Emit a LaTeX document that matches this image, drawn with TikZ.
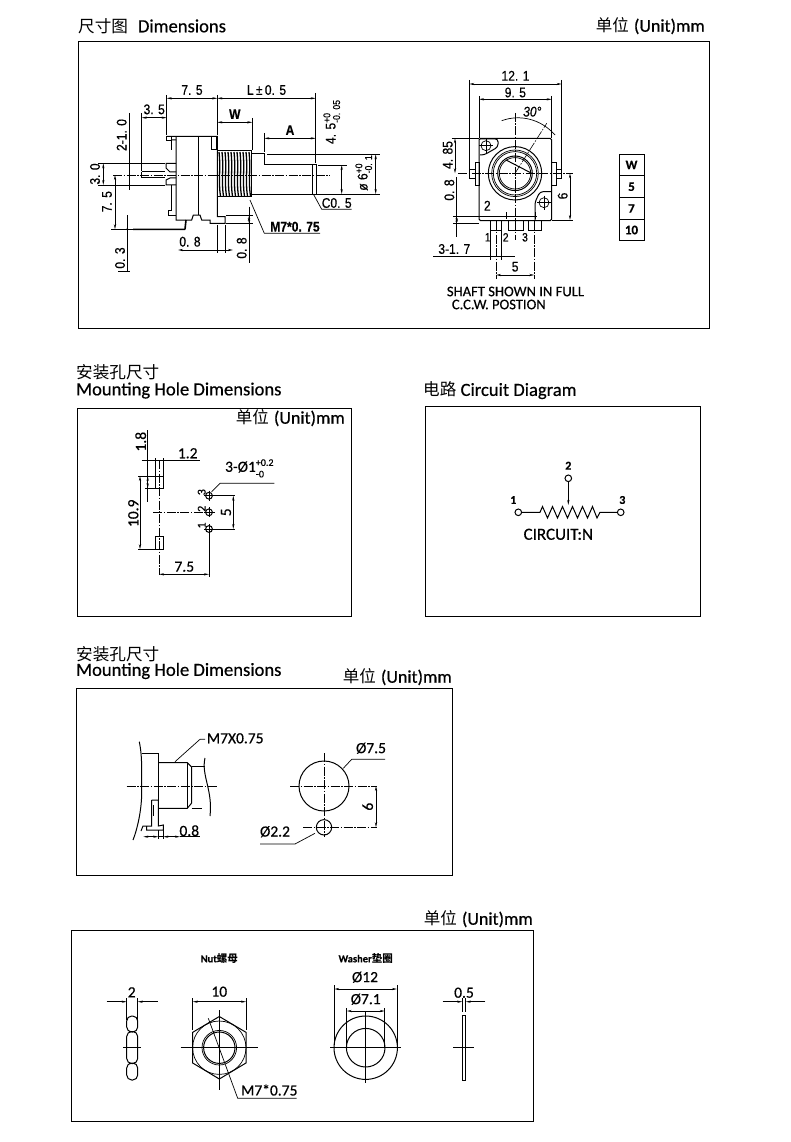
\documentclass[tikz,border=0pt]{standalone}
\usepackage{fontspec}
\usetikzlibrary{calc,arrows.meta}
\setmainfont{Carlito}[RawFeature={embolden=0.5}]
\newfontfamily\dimfont{Liberation Sans}[FakeStretch=.86,RawFeature={embolden=0.5}]
\newfontfamily\cjkfont{Noto Sans CJK SC}
\newcommand{\tolstack}[3][9]{{\fontsize{10}{#1}\selectfont\begin{tabular}{@{}l@{}}#2\\#3\end{tabular}}}
\newcommand{\unittext}{{\cjkfont\fontsize{16.5}{16.5}\selectfont 单位}\hspace{5pt}(Unit)mm}
\tikzset{
  thin line/.style={line width=.7pt},
  part/.style={line width=1pt},
  frame/.style={line width=.9pt},
  dimline/.style={line width=.7pt,<->},
  center/.style={line width=.6pt,dash pattern=on 9pt off 1.5pt on 1.5pt off 1.5pt},
  title/.style={font=\fontsize{18.6}{18.6}\selectfont,anchor=west,inner sep=0pt},
  cjktitle/.style={font=\cjkfont\fontsize{16.6}{16.6}\selectfont,anchor=west,inner sep=0pt},
  unit/.style={font=\fontsize{18}{18}\selectfont,anchor=east,inner sep=0pt},
  dim/.style={font=\dimfont\fontsize{14}{14}\selectfont,inner sep=0pt},
  val/.style={font=\fontsize{15.5}{15.5}\selectfont,inner sep=0pt},
  note/.style={font=\fontsize{14.6}{14.6}\selectfont,inner sep=0pt},
  small/.style={font=\fontsize{10.5}{10.5}\selectfont\bfseries,inner sep=0pt},
}
\begin{document}
\begin{tikzpicture}[x=1pt,y=-1pt,>={Stealth[length=5pt,width=2.2pt]}]
\useasboundingbox (0,0) rectangle (790,1142);
% frames
\draw[frame] (78,41) rectangle (709,328);
\draw[frame] (77,408) rectangle (351,616);
\draw[frame] (425,406) rectangle (700,616);
\draw[frame] (76,688) rectangle (452,875);
\draw[frame] (71,930) rectangle (533,1121);
% titles
\node[title] (tdim) at (78,26) {{\cjkfont\fontsize{16.6}{16.6}\selectfont 尺寸图}\hspace{10pt}Dimensions};
\node[unit] (uone) at (705,26) {\unittext};
\node[cjktitle] (thole) at (76,372) {安装孔尺寸};
\node[title] (tholeb) at (76,390.5) {Mounting Hole Dimensions};
\node[title] (tcirc) at (423,390.5) {{\cjkfont\fontsize{16.6}{16.6}\selectfont 电路} Circuit Diagram};
\node[unit] (utwo) at (345,418) {\unittext};
\node[cjktitle] (tholec) at (76,654) {安装孔尺寸};
\node[title] (tholed) at (76,671) {Mounting Hole Dimensions};
\node[unit] (uthree) at (452,677) {\unittext};
\node[unit] (ufour) at (533,919) {\unittext};

% side view of the pot
\draw[center] (113,175)--(330,175);
\draw[part] (141.7,172)--(165,172) (141.7,178)--(165,178) (141.7,172)--(141.7,178);
\draw[part] (166.7,136.5)--(217.3,136.5)--(217.3,216.7)--(225,216.7)--(225,223.3)--(210,223.3)--(210,220)--(201.7,220)--(200,215)--(193.3,215)--(191.7,220)--(176,220)--(176,136.5);
\draw[part] (166.7,136.5)--(166.7,140.5)--(171.7,140.5)--(171.7,150) (171.7,136.5)--(171.7,140.5);
\draw[part] (176,140)--(171.7,140) (176,163.3)--(166,163.3)--(166,168)--(170,172)--(176,172);
\draw[part] (176,185)--(166,185)--(166,180)--(170,178)--(176,178);
\draw[part] (171.7,185)--(171.7,210)--(168,210)--(168,215)--(176,215);
\draw[part] (198.3,136.5)--(198.3,215) (211,137)--(211,150)--(216,150)--(216,137);
\draw[line width=1.6pt] (133,229.3)--(185,229.3) (185,229.3)--(186,220);
\fill (127.3,229.3) circle (1.2);
% thread
\draw[part] (217.3,151)--(252,151) (217.3,196.7)--(251,196.7) (251.7,151)--(251.7,196.7) (217.3,151)--(217.3,197);
\foreach \x in {219,222,...,249}{
  \draw[line width=1.3pt] (\x,152)..controls (\x+2,170) and (\x-1,180)..(\x+1.5,196);
}
% shaft
\draw[part] (251.7,154)--(264.3,154)--(264.3,165)--(316,165)--(316,194)--(251.7,194);
\draw[part] (312.3,165)--(312.3,194);
% side view dimensions
\draw[thin line] (166.7,95)--(166.7,135) (217.3,95)--(217.3,135) (315.7,93)--(315.7,163)
  (252.3,118)--(252.3,150) (264.3,133)--(264.3,152)
  (141.7,113)--(141.7,171) (129.3,113)--(129.3,190)
  (98,163.3)--(165,163.3) (98,185)--(165,185) (111,229.3)--(133,229.3) (127.3,215)--(127.3,271) (118,271)--(130,271)
  (267,154.3)--(380,154.3) (316,194)--(380,194) (318,165)--(347,165)
  (217.3,225)--(217.3,253) (225,225)--(225,253) (226,215.7)--(253,215.7) (226,223.3)--(253,223.3) (249,206.7)--(249,263);
\draw[dimline] (166.7,98.3)--(217.3,98.3) node[dim,midway,above=3pt] (lbodyw) {7. 5};
\draw[dimline] (217.3,98.3)--(315.7,98.3) node[dim,midway,above=3pt] (lshaft) {L\,±\,0. 5};
\draw[dimline] (217.3,122.3)--(252.3,122.3) node[dim,midway,above=3pt] (lw) {\bfseries W};
\draw[dimline] (264.3,138.3)--(315.7,138.3) node[dim,midway,above=3pt] (la) {\bfseries A};
\draw[dimline] (141.7,117.7)--(166.7,117.7) node[dim,midway,above=3pt] (lpin) {3. 5};
\draw[dimline] (103.3,163.3)--(103.3,185);
\draw[dimline] (115,175)--(115,229.3);
\draw[dimline] (341.7,165)--(341.7,194);
\draw[dimline] (375.7,154.3)--(375.7,194);
\draw[dimline] (178,250)--(233,250);
\draw[dimline] (249,215.7)--(249,223.3);
\node[dim,rotate=90] (lpinw) at (121.7,135) {2-1. 0};
\node[dim,rotate=90] (lthree) at (95,174) {3. 0};
\node[dim,rotate=90] (lheight) at (107,201.7) {7. 5};
\node[dim,rotate=90] (lthick) at (120,258) {0. 3};
\node[dim,rotate=90] (lflat) at (333,122) {4. 5\tolstack{+0}{-0. 05}};
\node[dim,rotate=90] (ldia) at (365,173) {ø 6\tolstack{+0}{-0. 1}};
\node[dim] (llug) at (190,241.7) {0. 8};
\node[dim,rotate=90] (lstep) at (241.7,248) {0. 8};
\node[dim] (lcham) at (336.7,203) {C0. 5};
\node[dim] (lthread) at (295,226.7) {\bfseries M7*0. 75};
\draw[thin line] (313.3,194)--(321.7,209.3)--(351.7,209.3);
\draw[thin line] (250,200)--(264.3,233.3)--(320,233.3);

% front view of the pot
\draw[part,rounded corners=1.5pt] (479,138.3)--(551.7,138.3)--(551.7,220.7)--(479,220.7)--cycle;
\draw[part,rounded corners=3pt] (480,138.8)--(498,138.8)--(498,147)--(484,155)--(480,155);
\draw[part,rounded corners=3pt] (551,191.7)--(540,191.7)--(535,202)--(535,220);
\path (515,173.3) coordinate (C) (486,145.7) coordinate (holeA) (544,202.7) coordinate (holeB);
\foreach \h in {holeA,holeB}{
  \draw[thin line] (\h) circle (5);
  \draw[thin line] ($(\h)+(-7,0)$)--($(\h)+(7,0)$) ($(\h)+(0,-7)$)--($(\h)+(0,7)$);
}
\draw[part] (C) circle (26.7) (C) circle (17.3);
\draw[thin line] (C) circle (23.3) (C) circle (21.7) (C) circle (15.7);
\draw[part] (506,160)--(531.7,173.3);
\draw[center] (515,113)--(515,240);
\draw[center] (458,173.3)--(573,173.3);
\draw[center] (C)--(546.7,123.3);
\draw[thin line] (501.7,120.7) .. controls (520,114) and (541,119) .. (555,135);
\node[font=\dimfont\itshape\fontsize{14}{14}\selectfont,inner sep=0pt] (lang) at (532.3,111.7) {30°};
\draw[part] (475,162.7) rectangle (479,186) (551.7,162.7) rectangle (556,186);
\draw[part] (469.3,170) rectangle (475,178.3) (556,170) rectangle (561.7,178.3);
\draw[part] (490,220.7) rectangle (501.7,230.7) (508.3,220.7) rectangle (523.3,230.7) (528.3,220.7) rectangle (541.7,230.7);
\draw[thin line] (469.3,80)--(469.3,170) (561.7,80)--(561.7,170) (479,96)--(479,138) (551.7,96)--(551.7,138)
  (451.7,138.3)--(479,138.3) (453,216.7)--(536.7,216.7) (453,223.3)--(479,223.3) (552,220)--(573,220)
  (490,230)--(490,260) (501.7,230)--(501.7,260) (433.3,256)--(515,256);
\draw[dimline] (469.3,84)--(561.7,84) node[dim,midway,above=3pt] (lwide) {12. 1};
\draw[dimline] (479,99.3)--(551.7,99.3) node[dim,midway,above=1.5pt] (lbody) {9. 5};
\draw[dimline] (455,138.3)--(455,173.3);
\draw[dimline] (456.7,216.7)--(456.7,223.3);
\draw[thin line] (456.7,177)--(456.7,236.7);
\draw[dimline] (570,173.3)--(570,220);
\draw[dimline] (496,275)--(534.3,275) node[dim,midway,above=3pt] (lpitch) {5};
\draw[center] (496,221)--(496,279) (534.3,221)--(534.3,279);
\draw[thin line] (506.7,212)--(506.7,219) (535,212)--(535,219);
\node[dim,rotate=90] (ltop) at (447.7,155) {4. 85};
\node[dim,rotate=90] (llow) at (449.3,190) {0. 8};
\node[dim] (lrib) at (487.3,205.7) {2};
\node[dim,rotate=90] (lsix) at (562.7,196) {6};
\node[dim] (lpinb) at (454.3,249) {3-1. 7};
\foreach \n/\x in {1/487.7,2/505.7,3/525}{
  \node[dim,font=\dimfont\fontsize{12}{12}\selectfont] (pin\n) at (\x,237.3) {\n};
}
\node[note,anchor=west] (lnotea) at (446.7,291.5) {SHAFT SHOWN IN FULL};
\node[note,anchor=west] (lnoteb) at (451.7,304.5) {C.C.W. POSTION};
% table
\draw[frame] (619,154.3) rectangle (644,240.7) (619,175.7)--(644,175.7) (619,197.7)--(644,197.7) (619,219.3)--(644,219.3);
\foreach \t/\y/\lab in {tw/165/W,tf/186.7/5,ts/208.5/7,tt/230/10}{
  \node[font=\fontsize{13}{13}\selectfont\bfseries,inner sep=0pt] (\t) at (631.5,\y) {\lab};
}

% mounting holes
\draw[center] (159,460)--(159,575) (153.3,512.3)--(215,512.3);
\draw[part] (155,476) rectangle (163.3,488.3) (155,536.7) rectangle (163.3,549.3);
\foreach \n/\y in {3/495.7,2/512.3,1/529}{
  \draw[part] (209,\y) circle (3.4);
  \draw[thin line] (204,\y)--(214,\y) (209,\y-5)--(209,\y+5);
  \node[rotate=90,font=\fontsize{12}{12}\selectfont,inner sep=0pt] (hole\n) at (201.7,\y-3.5) {\n};
}
\draw[thin line] (147.7,430)--(147.7,501.7) (138.3,476)--(155,476) (138.3,549.3)--(155,549.3) (145,488.3)--(155,488.3)
  (155,458)--(155,476) (163.3,458)--(163.3,476) (141.7,460)--(200,460)
  (209,532)--(209,577) (209,495.7)--(235,495.7) (209,529)--(235,529);
\draw[dimline] (147.7,476)--(147.7,488.3);
\draw[dimline] (140,476)--(140,549.3);
\draw[dimline] (159,574.3)--(209,574.3);
\draw[dimline] (233.3,495.7)--(233.3,529);
\draw[thin line] (211.7,491.7)--(220,483.3)--(274.3,483.3);
\node[val,rotate=90] (bpad) at (140.7,441.7) {1.8};
\node[val] (bgap) at (187.7,453.3) {1.2};
\node[val] (bhole) at (249.3,469.3) {3-Ø1\tolstack[11.5]{+0.2}{-0}};
\node[val,rotate=90] (bspan) at (133.3,513.3) {10.9};
\node[val,rotate=90] (bfive) at (226,512.3) {5};
\node[val] (bdepth) at (184.3,566.7) {7.5};

% circuit
\path (518.3,512.3) coordinate (a) (620.7,512.3) coordinate (b) (568.3,478.3) coordinate (w);
\draw[part] (a) circle (3.3) (b) circle (3.3) (w) circle (3.3);
\draw[part] (521.6,512.3)--(540,512.3)--(542.5,506.5)--(547.5,518)--(552.5,506.5)--(557.5,518)--(562.5,506.5)--(567.5,518)--(572.5,506.5)--(577.5,518)--(582.5,506.5)--(587.5,518)--(592.5,506.5)--(597,518)--(600,512.3)--(617.4,512.3);
\draw[part,->] (568.3,481.6)--(568.3,505);
\node[small,font=\fontsize{12}{12}\selectfont\bfseries] (ca) at (513.3,500) {1};
\node[small,font=\fontsize{12}{12}\selectfont\bfseries] (cw) at (568.3,465.7) {2};
\node[small,font=\fontsize{12}{12}\selectfont\bfseries] (cb) at (622.3,500) {3};
\node[font=\fontsize{17}{17}\selectfont,inner sep=0pt] (cname) at (558.3,534.3) {CIRCUIT:N};

% bushing and panel cut-out
\draw[center] (126.7,786)--(216.7,786);
\draw[part] (139.3,741.7)..controls (143,760) and (141,775)..(141.7,790)..controls (142,810) and (137,830)..(133,840);
\draw[part] (141.7,753.3)--(158.3,753.3)--(158.3,800);
\draw[part] (158.3,762.7)--(187.3,762.7)--(191.7,767)--(191.7,803)--(187.3,808.3)--(158.3,808.3);
\draw[part] (187.3,762.7)--(187.3,808.3);
\draw[part] (191.7,766)--(205,766) (191.7,808.3)--(201.7,808.3);
\draw[part] (205,758)..controls (201,775) and (213,790)..(210,816);
\draw[part] (151.7,800)--(158.3,800)--(158.3,826)--(163.3,825)--(163.3,830)--(146.7,830)--(146.7,826)--(143,826)--(141,831)
  (151.7,800)--(151.7,826)--(146.7,826);
\draw[line width=1.5pt] (153.5,805)--(153.5,816);
\draw[thin line] (158.3,830)--(158.3,839) (163.3,830)--(163.3,839);
\draw[dimline] (143.3,836.7)--(158.3,836.7);
\draw[dimline] (180,836.7)--(163.3,836.7);
\draw[thin line] (158.3,836.7)--(163.3,836.7) (180,836.7)--(200,836.7);
\node[val] (mdim) at (189.3,830.7) {0.8};
\draw[thin line] (175,761.7)--(200,739.3)--(205,739.3);
\node[val,anchor=west] (mthread) at (206.7,738.3) {M7X0.75};
\path (324,786) coordinate (big) (324,827.3) coordinate (small);
\draw[part] (big) circle (25) (small) circle (7.7);
\draw[center] (324,753)--(324,836.7) (290,786)--(376.7,786) (303,827.3)--(376.7,827.3);
\draw[dimline] (376,786)--(376,827.3);
\node[val,rotate=90] (msix) at (367.7,806.7) {6};
\node[val] (mbig) at (371,748.3) {Ø7.5};
\node[val] (msmall) at (275,831.7) {Ø2.2};
\draw[thin line] (343.3,768.3)--(351.7,759.3)--(385,759.3);
\draw[thin line] (315,833.3)--(295,844)--(260,844);

% nut, side
\draw[part,rounded corners=5pt] (126.7,1016) rectangle (137.7,1032) (126.7,1031.5) rectangle (137.7,1063.5) (126.7,1063) rectangle (137.7,1080);
\draw[thin line] (123.3,1047.7)--(140.7,1047.7);
\draw[thin line] (126.7,998)--(126.7,1020) (137.7,998)--(137.7,1020);
\draw[thin line,->] (106.7,1001.7)--(126.7,1001.7);
\draw[thin line,->] (157.7,1001.7)--(137.7,1001.7);
\node[val] (nthick) at (131.7,992.3) {2};
% nut, front
\path (219.3,1047.7) coordinate (N);
\draw[part] (219.3,1016.5)--(246,1032.3)--(246,1063)--(219.3,1079)--(192.7,1063)--(192.7,1032.3)--cycle;
\draw[thin line] (N) circle (26.7) (N) circle (17.3);
\draw[part] (N) circle (15.7);
\draw[thin line] (180.7,1047.7)--(258.3,1047.7) (219.3,1010)--(219.3,1090);
\draw[thin line] (192.7,998)--(192.7,1030) (246,998)--(246,1030);
\draw[dimline] (192.7,1001.7)--(246,1001.7);
\draw[thin line] (208.3,1018.3)--(237.7,1098.3)--(296.7,1098.3);
\node[val] (nwidth) at (219.3,991.7) {10};
\node[val] (nthread) at (269.3,1090) {M7*0.75};
\node[small] (nlabel) at (219.3,958.3) {Nut{\cjkfont 螺母}};
% washer
\path (365.7,1047.7) coordinate (W);
\draw[part] (W) circle (31.7) (W) circle (19.3);
\draw[thin line] (330,1047.7)--(401,1047.7) (365.7,1011.7)--(365.7,1083);
\draw[thin line] (334.3,985)--(334.3,1045) (397,985)--(397,1045) (346.7,1008)--(346.7,1047) (384.7,1008)--(384.7,1047);
\draw[dimline] (334.3,989)--(397,989);
\draw[dimline] (346.7,1011)--(384.7,1011);
\node[val] (wouter) at (365,977.3) {Ø12};
\node[val] (winner) at (365.7,999.3) {Ø7.1};
\node[small] (wlabel) at (365.7,958.3) {Washer{\cjkfont 垫圈}};
\draw[part] (462.3,1015) rectangle (465.7,1080.7);
\draw[thin line] (453.3,1047.7)--(474,1047.7) (462.3,998)--(462.3,1011.7) (465.7,998)--(465.7,1011.7);
\draw[thin line,->] (442.7,1001.7)--(462.3,1001.7);
\draw[thin line,->] (485.3,1001.7)--(465.7,1001.7);
\node[val] (wthick) at (464,992.7) {0.5};
\end{tikzpicture}
\end{document}
